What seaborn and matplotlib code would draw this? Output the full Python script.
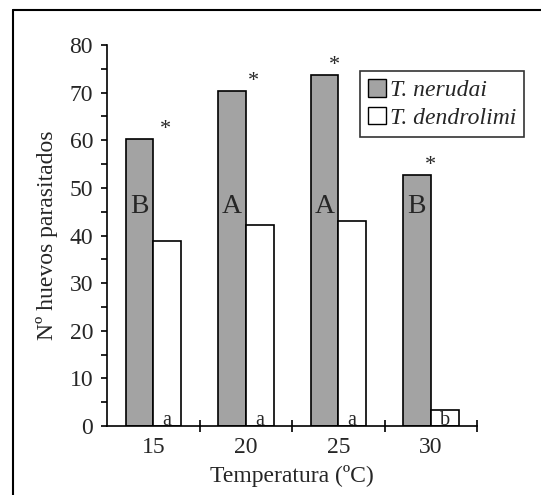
import matplotlib
matplotlib.use("Agg")
import matplotlib.pyplot as plt
import seaborn as sns
import pandas as pd
import numpy as np
from matplotlib.patches import Patch
from matplotlib.lines import Line2D

temperaturas = ["15", "20", "25", "30"]
nerudai = [60.2, 70.3, 73.8, 52.6]
dendrolimi = [38.8, 42.3, 43.0, 3.4]
letras_nerudai = ["B", "A", "A", "B"]
letras_dendrolimi = ["a", "a", "a", "b"]
asteriscos = ["*", "*", "*", "*"]
especies = ["T. nerudai", "T. dendrolimi"]

df = pd.DataFrame({
    "Temperatura": temperaturas * 2,
    "valor": nerudai + dendrolimi,
    "especie": [especies[0]] * 4 + [especies[1]] * 4,
})

sns.set_style("white")
plt.rcParams["font.family"] = ["Liberation Serif", "DejaVu Serif"]

W, H = 541, 495
fig = plt.figure(figsize=(W / 100, H / 100), dpi=100)
ax = fig.add_axes([107 / W, 1 - 426 / H, (477 - 107) / W, (426 - 45) / H])

gray = "#a3a3a3"
sns.barplot(data=df, x="Temperatura", y="valor", hue="especie", order=temperaturas,
            hue_order=especies, palette=[gray, "white"], width=0.6, dodge=True,
            edgecolor="black", linewidth=1.2, saturation=1, ax=ax, legend=False)

ax.set_xlim(-0.5, 3.5)
ax.set_ylim(0, 80)
for s in ["top", "right"]:
    ax.spines[s].set_visible(False)
for s in ["left", "bottom"]:
    ax.spines[s].set_color("black")
    ax.spines[s].set_linewidth(1.2)

ax.set_yticks(np.arange(0, 81, 10))
ax.set_yticks(np.arange(5, 80, 10), minor=True)
ax.tick_params(axis="y", which="both", direction="out", length=4, width=1.2,
               color="black", labelsize=17, pad=6, left=True)
ax.set_xticks(range(4))
ax.set_xticklabels(temperaturas)
ax.tick_params(axis="x", which="major", length=0, labelsize=17, pad=8)
ax.set_xticks([0.5, 1.5, 2.5, 3.5], minor=True)
ax.tick_params(axis="x", which="minor", direction="inout", length=8, width=1.2,
               color="black", bottom=True)

ax.set_xlabel("Temperatura (ºC)", fontsize=17, labelpad=5)
ax.set_ylabel("Nº huevos parasitados", fontsize=17, labelpad=8)

bw = 0.3
ast_dx = [0.13, 0.08, -0.04, 0.0]
for i in range(4):
    ax.text(i - bw / 2, 46, letras_nerudai[i], ha="center", va="center", fontsize=20)
    ax.text(i + bw / 2, 0.15, letras_dendrolimi[i], ha="center", va="baseline", fontsize=14.5)
    ax.text(i + ast_dx[i], nerudai[i] + 2.0, asteriscos[i], ha="center", va="center", fontsize=16)

handles = [Patch(facecolor=gray, edgecolor="black", linewidth=1),
           Patch(facecolor="white", edgecolor="black", linewidth=1)]
leg = fig.legend(handles, especies, loc="upper left",
                 bbox_to_anchor=(360 / W, 1 - 71 / H), frameon=True, fancybox=False,
                 edgecolor="black", prop={"style": "italic", "size": 17},
                 handlelength=0.75, handleheight=0.75, handletextpad=0.15,
                 borderpad=0.35, labelspacing=0.25, borderaxespad=0)
leg.get_frame().set_linewidth(1.2)

fig.add_artist(Line2D([13 / W, 1.0], [1 - 10 / H] * 2, transform=fig.transFigure,
                      color="black", linewidth=1.5))
fig.add_artist(Line2D([13 / W] * 2, [0, 1 - 10 / H], transform=fig.transFigure,
                      color="black", linewidth=1.5))

fig.savefig("out.png", dpi=100)
